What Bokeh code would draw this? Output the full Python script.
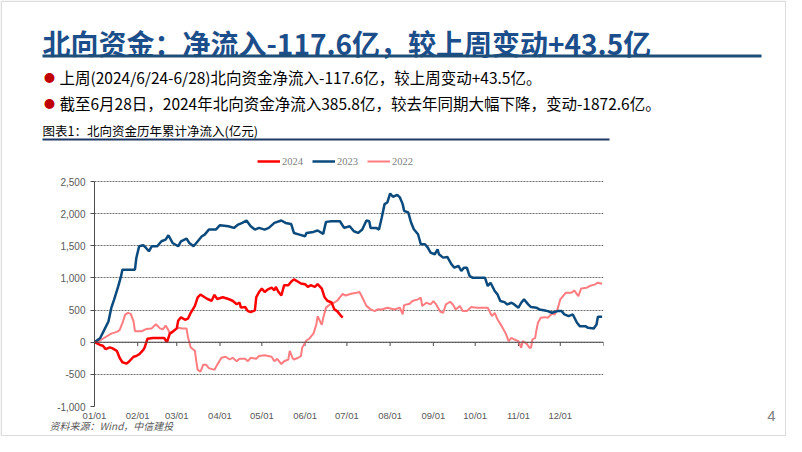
from bokeh.plotting import figure
from bokeh.models import (Range1d, FixedTicker, NumeralTickFormatter, Span, Label,
                          BoxAnnotation, Legend, LegendItem, GridBox)
from bokeh.embed import file_html
from bokeh.resources import INLINE

# ---------------- data (x = day of year, y = cumulative net inflow, 亿元) ----------------
d24 = [0, 4, 6, 8, 11, 13, 16, 18, 20, 23, 25, 28, 30, 32, 35, 36, 38, 42, 45, 50,
       52, 54, 56, 59, 60, 62, 65, 67, 69, 72, 74, 76, 79, 81, 84, 86, 88, 92, 96, 99,
       102, 104, 105, 108, 110, 112, 115, 116, 118, 120, 122, 124, 127, 129, 130, 132, 134, 136, 139, 141,
       143, 146, 148, 151, 153, 155, 158, 160, 163, 165, 167, 170, 172, 174, 177, 178]
v24 = [0, -43, -54, -108, -81, -97, -134, -242, -312, -333, -296, -226, -215, -188, -118, -81, 54, 65, 65, 65,
       0, 134, 161, 215, 333, 387, 349, 366, 457, 565, 699, 742, 699, 672, 645, 737, 672, 699, 672, 645,
       591, 618, 538, 548, 484, 468, 495, 699, 780, 833, 780, 817, 849, 806, 860, 780, 726, 887, 887, 941,
       978, 941, 914, 903, 860, 887, 860, 903, 833, 699, 645, 618, 511, 484, 403, 386]

d23 = [0, 4, 7, 10, 12, 14, 17, 19, 20, 29, 30, 32, 35, 37, 39, 41, 45, 48, 51, 53,
       56, 60, 62, 66, 68, 71, 73, 77, 79, 82, 87, 90, 96, 100, 103, 106, 109, 112, 115, 118,
       122, 125, 129, 134, 137, 141, 143, 147, 151, 152, 157, 160, 164, 166, 170, 176, 179, 183, 186, 189,
       192, 195, 197, 198, 202, 204, 206, 208, 210, 212, 214, 217, 219, 221, 222, 225, 227, 229, 232, 234,
       237, 239, 241, 244, 246, 247, 250, 253, 256, 258, 261, 263, 265, 267, 269, 271, 280, 282, 284, 287,
       289, 291, 294, 296, 299, 301, 304, 306, 308, 311, 313, 317, 319, 323, 325, 328, 332, 335, 337, 340,
       343, 346, 348, 352, 354, 358, 360, 361, 364]
v23 = [0, 62, 192, 322, 530, 660, 868, 1024, 1128, 1128, 1310, 1492, 1508, 1466, 1414, 1492, 1492, 1570, 1596, 1664,
       1544, 1492, 1570, 1612, 1544, 1492, 1544, 1648, 1674, 1752, 1752, 1820, 1804, 1778, 1830, 1856, 1893, 1804, 1752, 1778,
       1752, 1778, 1856, 1893, 1856, 1840, 1700, 1674, 1648, 1700, 1716, 1737, 1685, 1872, 1882, 1882, 1778, 1804, 1726, 1700,
       1752, 1893, 1882, 1778, 1778, 1752, 1940, 2148, 2174, 2314, 2262, 2293, 2252, 2148, 2044, 2018, 1862, 1758, 1680, 1524,
       1524, 1472, 1394, 1368, 1446, 1368, 1316, 1326, 1212, 1160, 1186, 1108, 1160, 1160, 1030, 1004, 1004, 874, 926, 796,
       744, 640, 624, 588, 614, 588, 536, 614, 666, 588, 546, 536, 510, 494, 484, 458, 484, 484, 432, 406,
       432, 302, 250, 250, 224, 213, 276, 395, 395]

d22 = [0, 4, 6, 8, 12, 16, 18, 20, 22, 24, 26, 28, 29, 34, 37, 41, 44, 47, 49, 51,
       53, 54, 56, 60, 63, 66, 67, 69, 72, 73, 74, 76, 78, 80, 82, 86, 88, 91, 94, 97,
       99, 102, 104, 108, 110, 112, 116, 118, 122, 127, 129, 131, 134, 136, 139, 140, 142, 143, 146, 148,
       149, 152, 154, 157, 159, 160, 163, 164, 166, 169, 172, 174, 178, 180, 184, 188, 190, 192, 195, 198,
       201, 203, 206, 210, 215, 219, 220, 221, 222, 226, 228, 232, 234, 235, 238, 241, 243, 245, 248, 250,
       252, 255, 257, 259, 262, 264, 267, 270, 274, 277, 282, 283, 285, 287, 289, 292, 294, 295, 297, 299,
       301, 304, 306, 307, 310, 312, 313, 314, 316, 317, 318, 320, 323, 325, 328, 330, 332, 334, 336, 338,
       342, 344, 347, 349, 353, 355, 359, 361, 364]
v22 = [0, 27, 54, 81, 134, 161, 188, 296, 430, 457, 441, 323, 172, 172, 204, 215, 280, 215, 199, 258,
       188, 134, 172, 226, 215, 215, 81, -81, -134, -296, -430, -457, -350, -350, -403, -430, -350, -242, -226, -269,
       -242, -296, -258, -258, -296, -242, -258, -215, -204, -226, -296, -258, -339, -296, -269, -134, -242, -269, -242, -215,
       -81, 27, 54, 134, 269, 403, 269, 376, 538, 591, 618, 645, 753, 726, 753, 769, 780, 699, 565, 511,
       484, 511, 510, 536, 510, 536, 484, 432, 577, 598, 640, 666, 692, 562, 614, 588, 640, 588, 473, 458,
       588, 629, 588, 510, 562, 484, 484, 546, 536, 536, 536, 494, 406, 458, 354, 250, 172, 130, 16, 68,
       42, 16, -88, 16, -26, -88, -88, 42, 68, 198, 302, 380, 390, 380, 442, 432, 510, 666, 718, 770,
       770, 806, 718, 837, 848, 874, 900, 926, 910]

month_ticks = [0, 31, 59, 90, 120, 151, 181, 212, 243, 273, 304, 334]
month_labels = ["01/01", "02/01", "03/01", "04/01", "05/01", "06/01",
                "07/01", "08/01", "09/01", "10/01", "11/01", "12/01"]
axis_marks = [31, 59, 90, 120, 151, 181, 212, 243, 273, 304, 334, 365]
y_ticks = [-1000, -500, 0, 500, 1000, 1500, 2000, 2500]
series_names = ["2024", "2023", "2022"]

assert len(d24) == len(v24) and len(d23) == len(v23) and len(d22) == len(v22)

# ---------------- layout (canvas pixel coordinates) ----------------
W, H = 786, 436
FL, FR, FT, FB = 94, 603, 150, 406      # chart frame (extends above the 2,500 line for the legend)
Y_TOP_GRID = 181                          # pixel row of the 2,500 grid line
Y_MIN, Y_MAX_GRID = -1000, 2500
y_top = Y_MIN + (Y_MAX_GRID - Y_MIN) * (FB - FT) / (FB - Y_TOP_GRID)

# ---------------- background page (texts, rules, frame) ----------------
bg = figure(width=W, height=H, output_backend="svg", toolbar_location=None, title=None,
            x_range=Range1d(0, W), y_range=Range1d(H, 0),
            x_axis_location=None, y_axis_location=None, min_border=0)
bg.frame_align = False
bg.grid.visible = False
bg.outline_line_color = None
bg.background_fill_color = "white"
bg.border_fill_color = "white"


def lab(text, x, y, size, color="#000000", font="Noto Sans CJK SC", style="normal",
        align="left", baseline="middle"):
    bg.add_layout(Label(x=x, y=y, text=text, text_font=font, text_font_size=f"{size}px",
                        text_font_style=style, text_color=color, text_align=align,
                        text_baseline=baseline))


def box(x0, x1, y0, y1, color):
    bg.add_layout(BoxAnnotation(left=x0, right=x1, top=y0, bottom=y1,
                                fill_color=color, fill_alpha=1, line_color=None))


lab("北向资金：净流入-117.6亿，较上周变动+43.5亿", 42, 42, 28, color="#1b4e8a", style="bold")
box(42, 761, 54, 57, "#1f4e79")
lab("●", 49, 76, 11, color="#c00000", align="center")
lab("上周(2024/6/24-6/28)北向资金净流入-117.6亿，较上周变动+43.5亿。", 59, 76, 15.5)
lab("●", 49, 102, 11, color="#c00000", align="center")
lab("截至6月28日，2024年北向资金净流入385.8亿，较去年同期大幅下降，变动-1872.6亿。", 59, 102, 15.5)
lab("图表1：北向资金历年累计净流入(亿元)", 42, 130, 12.5)
box(42, 609, 138, 140, "#1f3864")
lab("资料来源：Wind，中信建投", 49, 425, 10, color="#595959", style="italic")
lab("4", 771, 415, 15, color="#808080", font="Liberation Sans", align="center")
bg.add_layout(BoxAnnotation(left=0.75, right=W - 0.75, top=0.75, bottom=H - 0.75,
                            fill_alpha=0, line_color="#8c8c8c", line_width=1.5))

# ---------------- chart ----------------
p = figure(width=W, height=H, output_backend="svg", toolbar_location=None, title=None,
           x_range=Range1d(0, 365), y_range=Range1d(Y_MIN, y_top),
           min_border_left=FL, min_border_right=W - FR,
           min_border_top=FT, min_border_bottom=H - FB)
p.frame_align = False
p.outline_line_color = None
p.background_fill_alpha = 0
p.border_fill_alpha = 0

p.yaxis.ticker = FixedTicker(ticks=y_ticks)
p.yaxis.bounds = (Y_MIN, Y_MAX_GRID)
p.yaxis.formatter = NumeralTickFormatter(format="0,0")
p.yaxis.axis_line_color = "#4d4d4d"
p.yaxis.major_tick_line_color = "#4d4d4d"
p.yaxis.major_tick_out = 4
p.yaxis.major_tick_in = 0
p.yaxis.minor_tick_line_color = None
p.yaxis.major_label_text_font = "Liberation Sans"
p.yaxis.major_label_text_font_size = "10px"
p.yaxis.major_label_text_color = "#595959"
p.yaxis.major_label_standoff = 5

p.xaxis.ticker = FixedTicker(ticks=month_ticks)
p.xaxis.major_label_overrides = {t: s for t, s in zip(month_ticks, month_labels)}
p.xaxis.axis_line_color = None
p.xaxis.major_tick_line_color = None
p.xaxis.minor_tick_line_color = None
p.xaxis.major_tick_out = 0
p.xaxis.major_tick_in = 0
p.xaxis.major_label_text_font = "Liberation Sans"
p.xaxis.major_label_text_font_size = "9.5px"
p.xaxis.major_label_text_color = "#595959"
p.xaxis.major_label_standoff = 3

p.xgrid.visible = False
p.ygrid.ticker = FixedTicker(ticks=y_ticks)
p.ygrid.grid_line_color = "#6e6e6e"
p.ygrid.grid_line_dash = "2 1"
p.ygrid.grid_line_width = 1

p.add_layout(Span(location=0, dimension="width", line_color="#4d4d4d", line_width=1))
p.segment(x0=axis_marks, y0=[0] * len(axis_marks), x1=axis_marks, y1=[-60] * len(axis_marks),
          line_color="#4d4d4d", line_width=1)

r22 = p.line(d22, v22, line_color="#ff7c80", line_width=2)
r23 = p.line(d23, v23, line_color="#0b4a7d", line_width=2.5)
r24 = p.line(d24, v24, line_color="#ff0000", line_width=2.5)

legend = Legend(items=[LegendItem(label=series_names[0], renderers=[r24]),
                       LegendItem(label=series_names[1], renderers=[r23]),
                       LegendItem(label=series_names[2], renderers=[r22])],
                location=(257 - FL, FB - 167), orientation="horizontal",
                glyph_width=23, glyph_height=12, label_height=12, label_standoff=2,
                spacing=9, padding=0, margin=0, border_line_color=None,
                background_fill_alpha=0, label_text_font="Liberation Serif",
                label_text_font_size="10.5px", label_text_color="#7f7f7f")
p.add_layout(legend)

page = GridBox(children=[(bg, 0, 0), (p, 0, 0)])

open("out.html", "w").write(file_html(page, INLINE))
